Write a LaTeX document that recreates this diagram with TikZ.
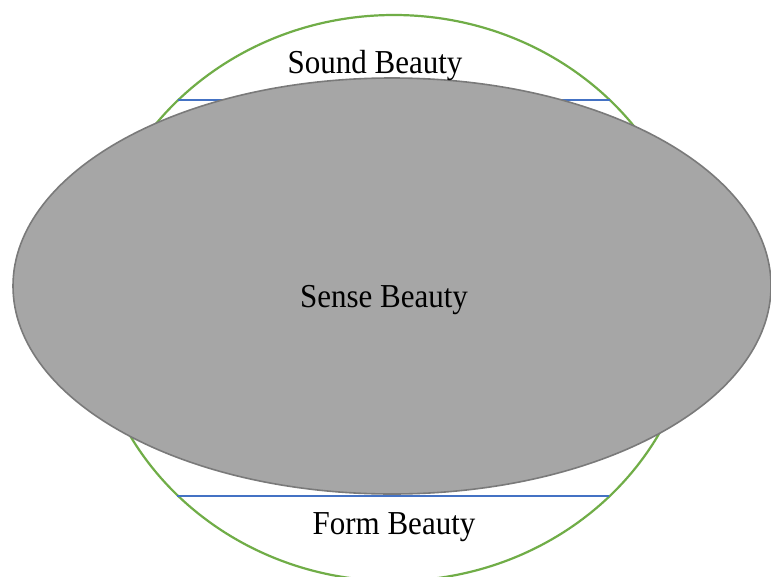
\documentclass[tikz,border=0pt]{standalone}
\usepackage{fontspec}
\setmainfont{Liberation Serif}
\definecolor{ringgreen}{HTML}{70AD47}
\definecolor{lineblue}{HTML}{4472C4}
\definecolor{bodygray}{HTML}{A6A6A6}
\definecolor{edgegray}{HTML}{7A7A7A}
\tikzset{
  outerring/.style={draw=ringgreen, line width=2.2pt},
  divider/.style={draw=lineblue, line width=1.8pt},
  body/.style={fill=bodygray, draw=edgegray, line width=1.6pt},
  label/.style={font=\fontsize{31}{36}\selectfont, text=black, inner sep=0pt, yscale=1.08}
}
\begin{document}
\begin{tikzpicture}[x=1pt, y=-1pt]
\useasboundingbox (0,0) rectangle (771,576);
\clip (0,0) rectangle (771,576);
\fill[white] (0,0) rectangle (771,576);
\draw[outerring] (394,298) ellipse [x radius=302, y radius=283];
\draw[divider] (178,100) -- (610,100);
\draw[divider] (177,496) -- (609,496);
\draw[body] (392,286) ellipse [x radius=379, y radius=208];
\node[label] (sound) at (375,65) {Sound Beauty};
\node[label] (sense) at (384,300) {Sense Beauty};
\node[label] (form) at (394,527) {Form Beauty};
\end{tikzpicture}
\end{document}
